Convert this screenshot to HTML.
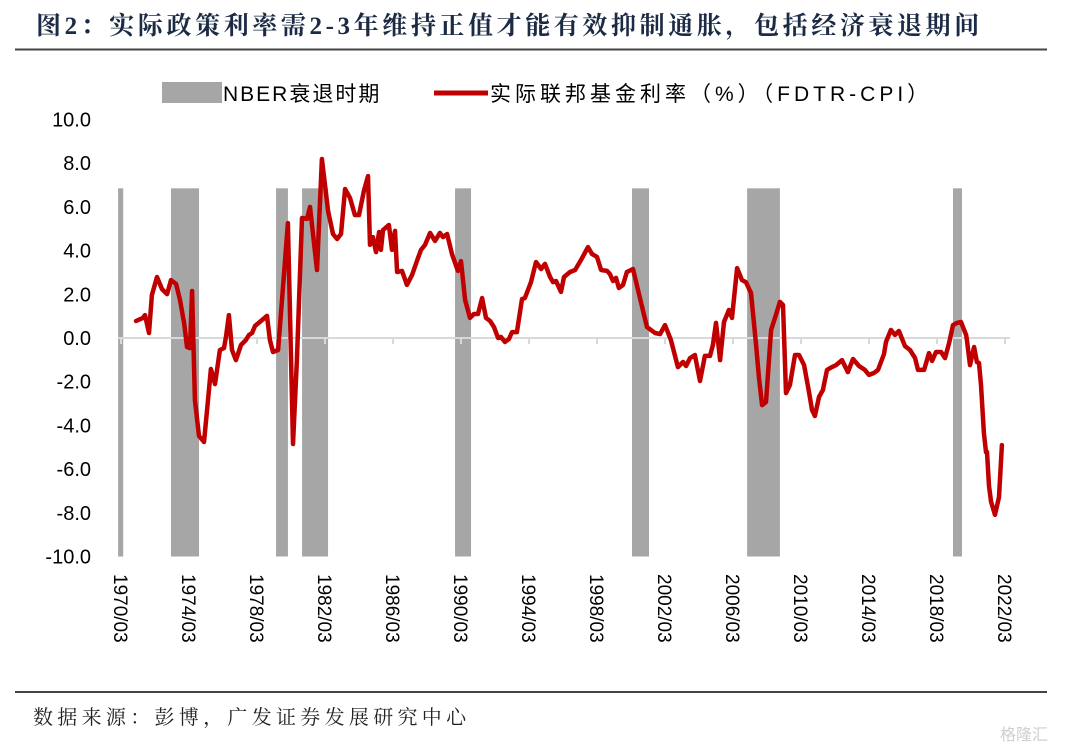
<!DOCTYPE html>
<html><head><meta charset="utf-8">
<style>
html,body{margin:0;padding:0;background:#fff;}
body{width:1080px;height:750px;overflow:hidden;position:relative;}
svg{position:absolute;left:0;top:0;}
</style></head>
<body>
<svg id="chart" width="1080" height="750" xmlns="http://www.w3.org/2000/svg">
  <text x="36" y="34" font-family="'Liberation Serif','Noto Serif CJK SC',serif" font-size="25" font-weight="bold" letter-spacing="3.6" fill="#1b2b45">图2：实际政策利率需2-3年维持正值才能有效抑制通胀，包括经济衰退期间</text>
  <line x1="15" y1="49.5" x2="1047" y2="49.5" stroke="#444" stroke-width="2"/>
  <g id="legend">
    <rect x="162" y="82" width="60" height="21" fill="#a6a6a6"/>
    <text x="223" y="101" font-family="'Liberation Sans','Noto Sans CJK SC',sans-serif" font-size="21" letter-spacing="2" fill="#000">NBER衰退时期</text>
    <line x1="434" y1="93" x2="488" y2="93" stroke="#c00000" stroke-width="5"/>
    <text x="490" y="101" font-family="'Liberation Sans','Noto Sans CJK SC',sans-serif" font-size="21" letter-spacing="4" fill="#000">实际联邦基金利率（%）（FDTR-CPI）</text>
  </g>
  <g id="plot"></g>
  <line x1="15" y1="692" x2="1047" y2="692" stroke="#444" stroke-width="2"/>
  <text x="33" y="724" font-family="'Liberation Serif','Noto Serif CJK SC',serif" font-size="20" letter-spacing="4.3" fill="#222">数据来源：彭博，广发证券发展研究中心</text>
  <text x="1000" y="740" font-family="'Liberation Sans','Noto Sans CJK SC',sans-serif" font-size="16" fill="#cfcfcf">格隆汇</text>
</svg>
<script>
const recessionStarts = [1970.0, 1973.11, 1979.29, 1980.82, 1989.82, 2000.23, 2007.0, 2019.11];
const recessionEnds   = [1970.3, 1974.76, 1979.99, 1982.35, 1990.76, 2001.23, 2008.93, 2019.64];
const dates = [1971.05,1971.46,1971.58,1971.82,1971.99,1972.29,1972.58,1972.88,1973.11,1973.41,1973.64,1973.88,1974.05,1974.23,1974.35,1974.52,1974.76,1975.05,1975.29,1975.46,1975.70,1975.99,1976.23,1976.35,1976.52,1976.70,1976.93,1977.23,1977.52,1977.70,1977.88,1978.05,1978.76,1978.93,1979.11,1979.41,1979.70,1979.99,1980.29,1980.52,1980.82,1981.11,1981.29,1981.70,1981.99,1982.35,1982.64,1982.88,1983.11,1983.35,1983.64,1983.93,1984.17,1984.46,1984.70,1984.82,1984.99,1985.17,1985.35,1985.46,1985.58,1985.93,1986.11,1986.29,1986.41,1986.70,1986.99,1987.29,1987.64,1987.82,1988.05,1988.35,1988.64,1988.93,1989.11,1989.35,1989.64,1989.99,1990.17,1990.41,1990.70,1990.93,1991.17,1991.41,1991.64,1991.88,1992.11,1992.35,1992.52,1992.76,1992.99,1993.17,1993.46,1993.76,1993.93,1994.29,1994.58,1994.88,1995.11,1995.41,1995.58,1995.76,1996.05,1996.23,1996.58,1996.88,1997.23,1997.64,1997.88,1998.17,1998.41,1998.76,1998.93,1999.11,1999.29,1999.46,1999.70,1999.93,2000.29,2000.64,2001.11,2001.58,2001.88,2002.17,2002.52,2002.93,2003.23,2003.41,2003.64,2003.93,2004.23,2004.52,2004.82,2004.99,2005.17,2005.41,2005.64,2005.93,2006.11,2006.41,2006.70,2006.93,2007.23,2007.52,2007.70,2007.88,2008.11,2008.41,2008.64,2008.93,2009.11,2009.29,2009.52,2009.82,2010.05,2010.35,2010.64,2010.82,2010.99,2011.23,2011.46,2011.70,2011.99,2012.23,2012.58,2012.93,2013.23,2013.58,2013.93,2014.17,2014.46,2014.70,2015.05,2015.17,2015.46,2015.70,2015.93,2016.29,2016.58,2016.88,2017.05,2017.41,2017.70,2017.88,2018.11,2018.41,2018.64,2018.88,2019.11,2019.35,2019.58,2019.88,2019.93,2020.11,2020.35,2020.52,2020.64,2020.76,2020.93,2021.05,2021.11,2021.23,2021.35,2021.58,2021.82,2021.99];
const rates = [0.78,0.92,1.05,0.23,1.97,2.79,2.24,2.01,2.65,2.47,1.74,0.69,-0.41,-0.46,2.15,-2.84,-4.48,-4.76,-2.84,-1.42,-2.11,-0.55,-0.46,0.09,1.05,-0.55,-1.01,-0.32,-0.09,0.14,0.23,0.55,1.01,-0.09,-0.64,-0.55,2.33,5.26,-4.85,-1.01,5.49,5.45,6.00,3.11,8.19,5.81,4.76,4.53,4.76,6.82,6.41,5.63,5.63,6.73,7.41,4.26,4.62,3.93,4.85,4.03,4.94,5.17,4.03,4.90,3.02,3.07,2.43,2.88,3.66,4.03,4.26,4.81,4.44,4.81,4.62,4.76,3.84,3.07,3.52,1.74,0.92,1.10,1.10,1.83,0.92,0.78,0.50,0.00,0.05,-0.18,-0.05,0.27,0.27,1.78,1.83,2.56,3.48,3.16,3.39,2.79,2.56,2.61,2.11,2.79,3.02,3.11,3.57,4.16,3.84,3.71,3.11,3.07,2.93,2.61,2.75,2.29,2.43,3.02,3.16,2.01,0.50,0.23,0.18,0.59,-0.09,-1.33,-1.10,-1.28,-0.92,-0.78,-1.97,-0.82,-0.82,-0.32,0.69,-1.01,0.73,1.28,0.92,3.20,2.65,2.56,2.06,-0.23,-1.83,-3.07,-2.93,0.37,0.92,1.65,1.51,-2.52,-2.15,-0.78,-0.78,-1.24,-2.47,-3.29,-3.57,-2.70,-2.38,-1.46,-1.33,-1.24,-1.01,-1.56,-0.96,-1.28,-1.46,-1.69,-1.60,-1.46,-0.73,-0.18,0.37,0.14,0.32,-0.37,-0.55,-0.92,-1.46,-1.46,-0.69,-1.05,-0.64,-0.64,-0.92,-0.23,0.59,0.69,0.73,0.14,-0.09,-1.24,-0.41,-1.10,-1.14,-2.15,-4.35,-5.22,-5.22,-6.77,-7.50,-8.09,-7.28,-4.90];
const yTicks = [10,8,6,4,2,0,-2,-4,-6,-8,-10];
const xTickYears = [1970,1974,1978,1982,1986,1990,1994,1998,2002,2006,2010,2014,2018,2022];
const xTickLabels = ["1970/03","1974/03","1978/03","1982/03","1986/03","1990/03","1994/03","1998/03","2002/03","2006/03","2010/03","2014/03","2018/03","2022/03"];
const recessionTop = 6.85;

const NS = "http://www.w3.org/2000/svg";
const x0 = 121, pxPerYear = 17, baseYear = 1970.17;
function xs(d){ return x0 + (d - baseYear) * pxPerYear; }
const y0 = 338, pxPerUnit = 21.85;
function ys(v){ return y0 - v * pxPerUnit; }
const plot = document.getElementById('plot');
function mk(tag, attrs){ const e = document.createElementNS(NS, tag); for (const k in attrs) e.setAttribute(k, attrs[k]); plot.appendChild(e); return e; }

for (let i = 0; i < recessionStarts.length; i++) {
  const a = Math.max(xs(recessionStarts[i]), 118);
  const b = xs(recessionEnds[i]);
  const r = mk('rect', {x: a, y: ys(recessionTop), width: b - a, height: ys(-10) - ys(recessionTop), fill: '#a6a6a6'});
  
  
}
const zl = mk('line', {x1: 118, y1: ys(0), x2: 1010, y2: ys(0), stroke: '#d9d9d9', 'stroke-width': 2});



yTicks.forEach(t => {
  const tx = mk('text', {x: 91, y: ys(t) + 7, 'text-anchor': 'end', 'font-family': "'Liberation Sans',sans-serif", 'font-size': 20, fill: '#000'});
  tx.textContent = t.toFixed(1);
  
  
});
xTickYears.forEach((yr, i) => {
  const x = xs(yr + 0.17);
  const tk = mk('line', {x1: x, y1: ys(0), x2: x, y2: ys(0) + 6, stroke: '#d9d9d9', 'stroke-width': 2});
  
  
  const tx = mk('text', {x: 0, y: 0, transform: 'translate(' + (x - 7) + ',574) rotate(90)', 'font-family': "'Liberation Sans',sans-serif", 'font-size': 19, fill: '#000'});
  tx.textContent = xTickLabels[i];
  
  
});
const pts = dates.map((d, i) => xs(d).toFixed(1) + ',' + ys(rates[i]).toFixed(1)).join(' ');
const line = mk('polyline', {points: pts, fill: 'none', stroke: '#c00000', 'stroke-width': 4.5, 'stroke-linejoin': 'round', 'stroke-linecap': 'round'});


</script>
</body></html>
